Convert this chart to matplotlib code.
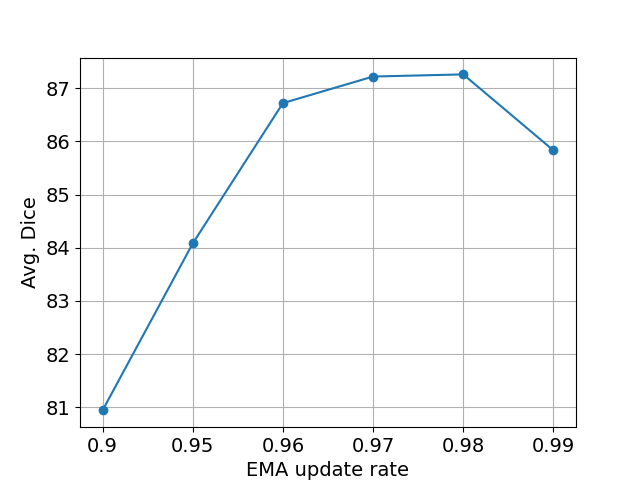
import matplotlib
matplotlib.use("Agg")
import matplotlib.pyplot as plt

rates = ["0.9", "0.95", "0.96", "0.97", "0.98", "0.99"]
dice = [80.94, 84.08, 86.72, 87.22, 87.26, 85.83]

fig, ax = plt.subplots(figsize=(6.4, 4.8), dpi=100)
x = list(range(len(rates)))
ax.plot(x, dice, marker="o", color="#1f77b4")
ax.set_xticks(x)
ax.set_xticklabels(rates)
ax.tick_params(labelsize=14)
ax.set_xlabel("EMA update rate", fontsize=14)
ax.set_ylabel("Avg. Dice", fontsize=14)
ax.grid(True)
fig.savefig("out.png")
